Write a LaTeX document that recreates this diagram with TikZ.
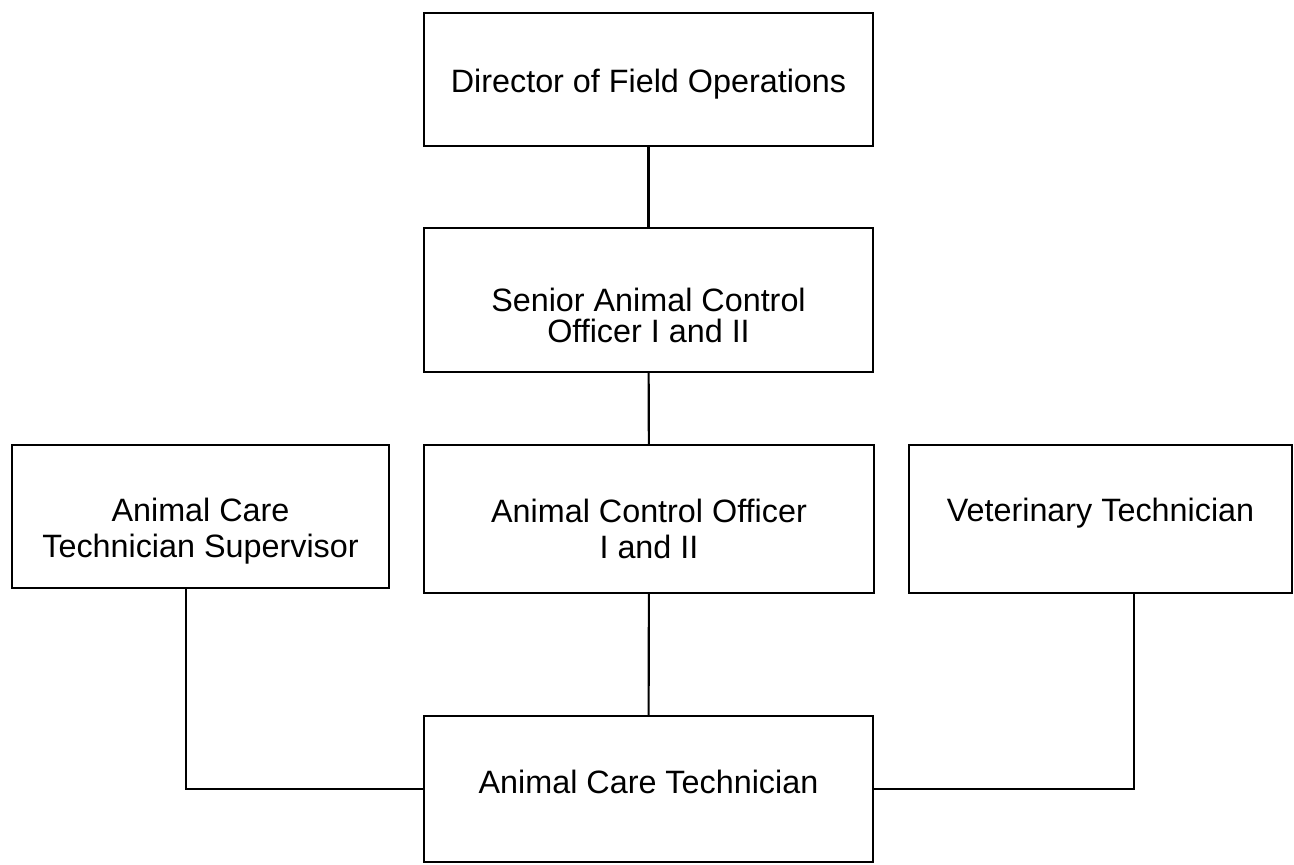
\documentclass[tikz,border=0pt]{standalone}
\usepackage{fontspec}
\setmainfont{Liberation Sans}
\usepackage{tikz}

\begin{document}
\begin{tikzpicture}
		\tikzstyle{post}=[draw,line width=1.2pt,rectangle,outer sep=0pt,align=center,font=\fontsize{18.4}{21}\selectfont,minimum width=8.98cm,text depth=0pt]
		\tikzstyle{link}=[line width=1.2pt]
		\useasboundingbox (0,0) rectangle (25.88,17.3);
		% top of the chain
		\node [post,minimum height=2.66cm,text height=0.54cm] at (12.97,15.71) (director) {Director of Field Operations};
		\node [post,minimum height=2.88cm,text height=1.72cm] at (12.97,11.30) (senior) {Senior Animal Control\\[-2.8pt]Officer I and II};
		% middle row
		\node [post,minimum width=7.54cm,minimum height=2.86cm,text height=1.66cm] at (4.01,6.97) (supervisor) {Animal Care\\Technician Supervisor};
		\node [post,minimum width=9.0cm,minimum height=2.96cm,text height=1.6cm] at (12.98,6.92) (officer) {Animal Control Officer\\I and II};
		\node [post,minimum width=7.66cm,minimum height=2.96cm,text height=0.12cm] at (22.01,6.92) (vettech) {Veterinary Technician};
		% bottom
		\node [post,minimum height=2.92cm,text height=0.2cm] at (12.97,1.52) (caretech) {Animal Care Technician};
		\coordinate (supdrop) at (3.72,0);
		\coordinate (vetdrop) at (22.68,0);
		% links
		\draw [link] (director) -- (senior);
		\draw [link] (senior) -- (officer);
		\draw [link] (officer) -- (caretech);
		\draw [link] (supervisor.south -| supdrop) |- (caretech.west);
		\draw [link] (vettech.south -| vetdrop) |- (caretech.east);
	\end{tikzpicture}
\end{document}
